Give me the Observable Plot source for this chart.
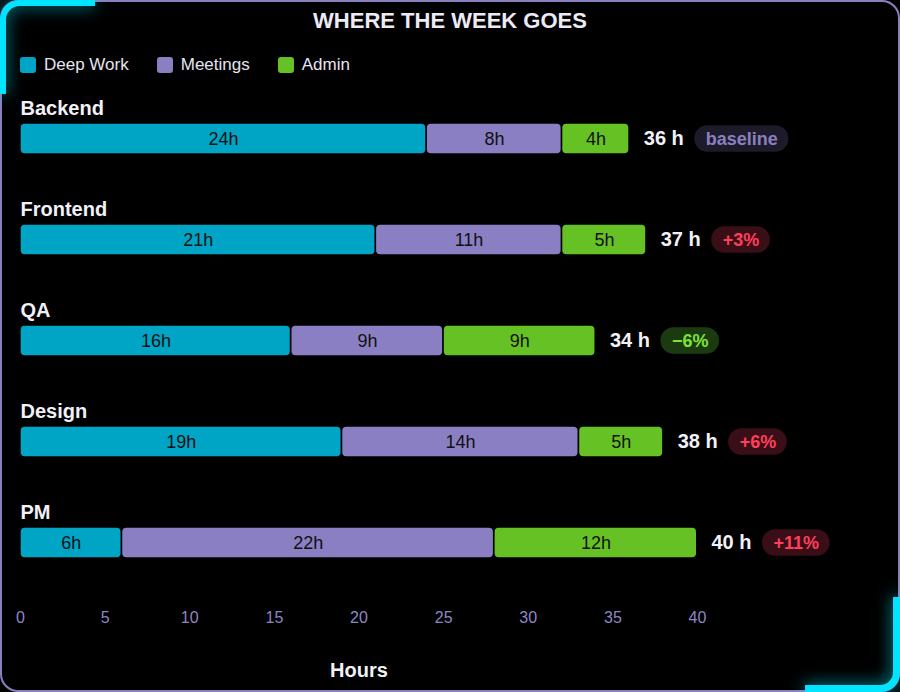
<!DOCTYPE html>
<html><head><meta charset="utf-8">
<script src="https://cdn.jsdelivr.net/npm/d3@7"></script>
<script src="https://cdn.jsdelivr.net/npm/@observablehq/plot@0.6"></script>
<style>
html,body{margin:0;padding:0;background:#000;}
#wrap{position:relative;width:900px;height:692px;overflow:hidden;font-family:"Liberation Sans",Arial,sans-serif;background:#000;}
#card{position:absolute;left:0;top:0;width:900px;height:692px;box-sizing:border-box;border:2px solid #8a80c0;border-radius:18px;}
#tl{position:absolute;left:0;top:0;width:95px;height:94px;box-sizing:border-box;border-top:6px solid #00e5ff;border-left:6px solid #00e5ff;border-top-left-radius:20px;filter:drop-shadow(0 0 8px rgba(0,229,255,0.8));}
#br{position:absolute;right:0;bottom:0;width:95px;height:95px;box-sizing:border-box;border-bottom:7px solid #00e5ff;border-right:7px solid #00e5ff;border-bottom-right-radius:20px;filter:drop-shadow(0 0 8px rgba(0,229,255,0.8));}
#title{position:absolute;left:0;top:8px;width:900px;text-align:center;font-weight:bold;font-size:22px;line-height:26px;color:#ecebf5;}
#legend{position:absolute;left:20px;top:55px;height:20px;display:flex;align-items:center;font-size:17px;color:#e6e4f0;}
.item{display:flex;align-items:center;margin-right:28px;}
.sw{width:16px;height:16px;border-radius:3px;margin-right:8px;}
#chart{position:absolute;left:0;top:80px;}
</style>
</head>
<body>
<div id="wrap">
  <div id="card"></div>
  <div id="title">WHERE THE WEEK GOES</div>
  <div id="legend"></div>
  <div id="chart"></div>
  <div id="tl"></div>
  <div id="br"></div>
</div>
<script>
const FONT = '"Liberation Sans", Arial, sans-serif';
const teams = ["Backend", "Frontend", "QA", "Design", "PM"];
const kinds = ["Deep Work", "Meetings", "Admin"];
const deepWork = [24, 21, 16, 19, 6];
const meetings = [8, 11, 9, 14, 22];
const admin = [4, 5, 9, 5, 12];
const badgeLabels = ["baseline", "+3%", "−6%", "+6%", "+11%"];
const badgeKinds = ["base", "up", "down", "up", "up"];
const xTicks = [0, 5, 10, 15, 20, 25, 30, 35, 40];
const axisTitle = "Hours";

const palette = ["#00a4c4", "#8b7fc4", "#66c124"];
const badgeBg = {base: "#1d1b29", up: "#3a0e17", down: "#1c3a0f"};
const badgeFg = {base: "#8a80c0", up: "#ff3f5a", down: "#7ce23a"};

// legend
const legend = document.getElementById("legend");
kinds.forEach((k, i) => {
  const it = document.createElement("div");
  it.className = "item";
  const sw = document.createElement("div");
  sw.className = "sw";
  sw.style.background = palette[i];
  const tx = document.createElement("span");
  tx.textContent = k;
  it.appendChild(sw); it.appendChild(tx);
  legend.appendChild(it);
});

const seriesByKind = [deepWork, meetings, admin];
const segments = teams.flatMap((t, i) => kinds.map((k, j) => ({team: t, kind: k, hours: seriesByKind[j][i]})));
const totals = teams.map((t, i) => ({
  team: t,
  total: deepWork[i] + meetings[i] + admin[i],
  badge: badgeLabels[i],
  kind: badgeKinds[i]
}));

const ctx = document.createElement("canvas").getContext("2d");
function tw(s, font) { ctx.font = font; return ctx.measureText(s).width; }

const H = 612, MT = 7, MB = 98;
const step = (H - MT - MB) / teams.length;
const barH = 30, pillH = 27;

const badgeMarks = totals.flatMap(d => {
  const tW = tw(d.total + " h", `bold 20px ${FONT}`);
  const bW = tw(d.badge, `bold 18px ${FONT}`);
  const start = 14 + tW + 11;
  const pill = bW + 22;
  return [
    Plot.barX([d], {x1: "total", x2: "total", y: "team", insetLeft: start, insetRight: -(start + pill),
      insetTop: (step - pillH) / 2, insetBottom: (step - pillH) / 2, rx: 13, fill: badgeBg[d.kind]}),
    Plot.text([d], {x: "total", y: "team", text: "badge", dx: start + pill / 2, textAnchor: "middle",
      fill: badgeFg[d.kind], fontWeight: "bold", fontSize: 18})
  ];
});

const plot = Plot.plot({
  width: 900, height: H,
  marginLeft: 20, marginRight: 203, marginTop: MT, marginBottom: MB,
  style: {background: "transparent", color: "#ecebf5", fontFamily: FONT, fontSize: "16px", overflow: "visible"},
  x: {domain: [0, 40]},
  y: {type: "band", domain: teams, padding: 0, axis: null},
  color: {domain: kinds, range: palette},
  marks: [
    Plot.barX(segments, Plot.stackX({x: "hours", y: "team", fill: "kind",
      insetTop: (step - barH) / 2, insetBottom: (step - barH) / 2, insetLeft: 0.7, insetRight: 1, rx: 4})),
    Plot.text(segments, Plot.stackX({x: "hours", y: "team", z: "kind", text: d => d.hours + "h", fill: "#111", fontSize: 18})),
    Plot.text(teams, {x: () => 0, y: d => d, text: d => d, textAnchor: "start", dy: -30, fontWeight: "bold", fontSize: 20, fill: "#f2f1f8"}),
    Plot.text(totals, {x: "total", y: "team", text: d => d.total + " h", textAnchor: "start", dx: 14, fontWeight: "bold", fontSize: 20, fill: "#f2f1f8"}),
    ...badgeMarks,
    Plot.axisX({ticks: xTicks, tickSize: 0, tickPadding: 17, fontSize: 16, fill: "#8e86c4", label: null}),
    Plot.text([axisTitle], {x: () => 20, frameAnchor: "bottom", dy: 82, text: d => d, fontWeight: "bold", fontSize: 20, fill: "#f2f1f8"})
  ]
});
document.getElementById("chart").appendChild(plot);
</script>
</body></html>
